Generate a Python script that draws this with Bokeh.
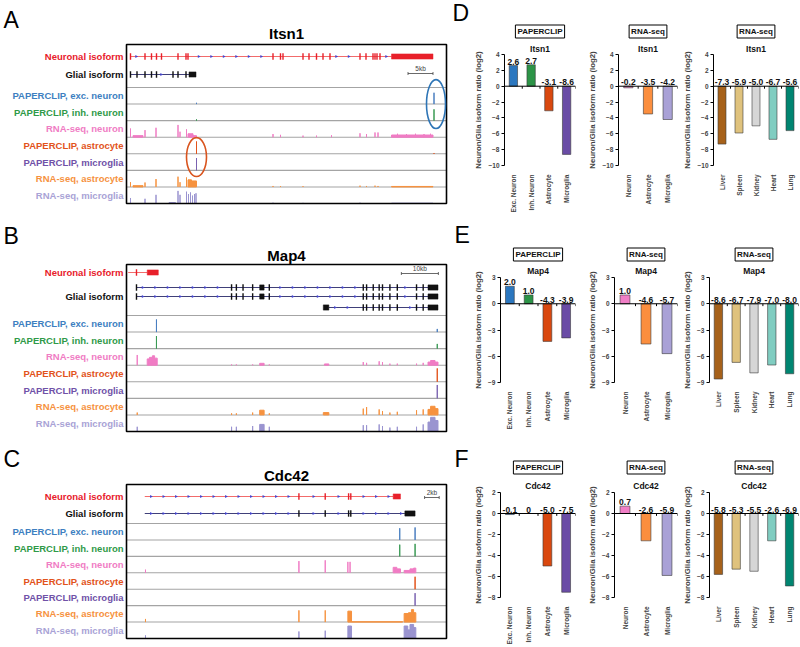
import numpy as np
from bokeh.plotting import figure
from bokeh.models import Range1d, FactorRange, FixedTicker, Span, LabelSet, Title, ColumnDataSource
from bokeh.layouts import row, column
from bokeh.embed import file_html
from bokeh.resources import INLINE
from bokeh.core.properties import value

FONT = "Liberation Sans"

# ---------------- bar-chart data (panels D-F) ----------------
paperclip_cells = ["Exc. Neuron", "Inh. Neuron", "Astrocyte", "Microglia"]
rnaseq_cells = ["Neuron", "Astrocyte", "Microglia"]
tissues = ["Liver", "Spleen", "Kidney", "Heart", "Lung"]

itsn1_paperclip = [2.6, 2.7, -3.1, -8.6]
itsn1_rnaseq = [-0.2, -3.5, -4.2]
itsn1_tissue = [-7.3, -5.9, -5.0, -6.7, -5.6]
map4_paperclip = [2.0, 1.0, -4.3, -3.9]
map4_rnaseq = [1.0, -4.6, -5.7]
map4_tissue = [-8.6, -6.7, -7.9, -7.0, -8.0]
cdc42_paperclip = [-0.1, 0.0, -5.0, -7.5]
cdc42_rnaseq = [0.7, -2.6, -5.9]
cdc42_tissue = [-5.8, -5.3, -5.5, -2.6, -6.9]

itsn1_ticks = [-10, -8, -6, -4, -2, 0, 2, 4]
map4_ticks = [-9, -6, -3, 0, 3]
cdc42_ticks = [-8, -6, -4, -2, 0, 2]

paperclip_colors = ["#2b77bf", "#2c9447", "#d9480f", "#6a4ca6"]
rnaseq_colors = ["#f07ec6", "#fb8e3e", "#a9a1d6"]
tissue_colors = ["#a6611a", "#dfc27d", "#d6d6d6", "#80cdc1", "#018571"]

# ---------------- genome-browser data (panels A-C), positions in kb ----------------
track_names = ["PAPERCLIP, exc. neuron", "PAPERCLIP, inh. neuron", "RNA-seq, neuron",
               "PAPERCLIP, astrocyte", "PAPERCLIP, microglia", "RNA-seq, astrocyte",
               "RNA-seq, microglia"]
track_label_colors = ["#3d7fc1", "#2f9a48", "#f07cc4", "#e2531b", "#7052a8", "#f6923f", "#a9a3d6"]
track_signal_colors = ["#4a7fc0", "#3a9a55", "#f07cc4", "#e2531b", "#7a62b0", "#f6923f", "#9a94d0"]

# Itsn1
itsn1_window_kb = 64.0
itsn1_neuronal_span = (0.7, 53.0)
itsn1_neuronal_exons = [0.8, 3.7, 5.0, 6.0, 7.0, 10.3, 11.9, 12.3, 29.3, 30.8, 31.3, 35.3, 36.5,
                        38.0, 39.3, 40.7, 46.7, 47.9, 49.3, 49.7, 50.1, 50.7]
itsn1_neuronal_blocks = [(53.0, 61.3)]
itsn1_glial_span = (0.7, 12.5)
itsn1_glial_exons = [0.8, 2.1, 3.7, 5.0, 6.0, 9.3, 10.3, 11.9]
itsn1_glial_blocks = [(12.5, 13.9)]
itsn1_exc = [(14.0, 14.0, 0.08), (61.5, 61.5, 0.72)]
itsn1_inh = [(14.0, 14.0, 0.08), (61.5, 61.5, 0.72)]
itsn1_rna_neuron = [(0.8, 0.8, 0.55), (1.3, 3.3, 0.1), (3.7, 3.7, 0.45), (5.9, 5.9, 0.6),
                    (10.3, 10.3, 0.78), (10.7, 10.7, 0.35), (12.0, 12.0, 0.5), (12.3, 13.3, 0.22),
                    (13.3, 14.0, 0.1), (29.3, 29.3, 0.2), (30.8, 30.8, 0.15), (35.3, 35.3, 0.1),
                    (38.0, 38.0, 0.1), (41.0, 41.0, 0.12), (46.7, 46.7, 0.25), (48.0, 48.0, 0.2),
                    (49.7, 49.7, 0.3), (50.3, 50.3, 0.3), (53.0, 61.3, 0.14), (54.2, 54.2, 0.22),
                    (56.0, 56.0, 0.2), (57.8, 57.8, 0.22), (59.5, 59.5, 0.2), (60.8, 60.8, 0.22)]
itsn1_astro = [(14.0, 14.0, 0.78), (61.5, 61.5, 0.05)]
itsn1_micro = [(14.0, 14.0, 0.78)]
itsn1_rna_astro = [(0.8, 0.8, 0.3), (1.3, 3.3, 0.08), (3.7, 3.7, 0.28), (5.9, 5.9, 0.5),
                   (10.3, 10.3, 0.65), (10.7, 10.7, 0.3), (12.0, 12.0, 0.6), (12.3, 13.0, 0.45),
                   (13.0, 14.0, 0.38), (29.3, 29.3, 0.06), (30.8, 30.8, 0.05), (35.3, 35.3, 0.05),
                   (46.7, 46.7, 0.08), (48.0, 48.0, 0.06), (49.7, 49.7, 0.08), (50.3, 50.3, 0.06),
                   (53.0, 61.3, 0.03)]
itsn1_rna_micro = [(0.8, 0.8, 0.35), (3.7, 3.7, 0.3), (5.9, 5.9, 0.55), (8.5, 9.8, 0.06),
                   (10.3, 10.3, 0.8), (10.7, 10.7, 0.55), (12.0, 12.0, 0.75), (12.4, 12.4, 0.6),
                   (12.8, 12.8, 0.7), (13.2, 13.2, 0.5), (13.6, 13.6, 0.6), (13.9, 13.9, 0.65),
                   (29.3, 29.3, 0.05), (35.3, 35.3, 0.04), (46.7, 46.7, 0.05), (53.0, 61.3, 0.02)]
itsn1_scalebar = (56.3, 5)

# Map4
map4_window_kb = 86.5
map4_neuronal_span = (0.45, 5.6)
map4_neuronal_exons = [2.7]
map4_neuronal_blocks = [(5.6, 8.6)]
map4_glial_long_span = (2.7, 81.5)
map4_glial_long_exons = [2.7, 28.4, 29.7, 31.5, 34.1, 38.6, 64.0, 64.9, 66.7, 68.3, 69.2, 71.2,
                         73.2, 78.4, 80.2]
map4_glial_long_blocks = [(36.0, 37.2), (81.5, 84.2)]
map4_glial_short_span = (54.7, 81.5)
map4_glial_short_exons = [64.0, 64.9, 66.7, 68.3, 69.2, 71.2, 73.2, 78.4, 80.2]
map4_glial_short_blocks = [(53.2, 54.7), (81.5, 84.2)]
map4_exc = [(8.1, 8.1, 0.8), (84.0, 84.0, 0.2)]
map4_inh = [(8.1, 8.1, 0.8), (84.0, 84.0, 0.3)]
map4_rna_neuron = [(2.9, 2.9, 0.65), (5.6, 6.2, 0.4), (6.2, 7.0, 0.5), (7.0, 7.6, 0.6),
                   (7.6, 8.3, 0.45), (28.4, 28.4, 0.05), (29.7, 29.7, 0.05), (34.1, 34.1, 0.05),
                   (36.0, 37.2, 0.12), (38.6, 38.6, 0.05), (53.5, 54.7, 0.08), (64.0, 64.0, 0.2),
                   (64.9, 64.9, 0.15), (68.3, 68.3, 0.25), (69.2, 69.2, 0.2), (71.2, 71.2, 0.1),
                   (73.2, 73.2, 0.1), (78.4, 78.4, 0.1), (80.2, 80.2, 0.15), (81.5, 82.2, 0.2),
                   (82.2, 83.4, 0.3), (83.4, 84.2, 0.2)]
map4_astro = [(84.0, 84.0, 0.85)]
map4_micro = [(84.0, 84.0, 0.85)]
map4_rna_astro = [(2.9, 2.9, 0.15), (28.4, 28.4, 0.1), (29.7, 29.7, 0.1), (34.1, 34.1, 0.15),
                  (36.0, 37.2, 0.3), (38.6, 38.6, 0.1), (53.2, 54.7, 0.15), (64.0, 64.0, 0.4),
                  (64.9, 64.9, 0.5), (68.3, 68.3, 0.35), (69.2, 69.2, 0.25), (71.2, 71.2, 0.15),
                  (73.2, 73.2, 0.2), (78.4, 78.4, 0.3), (80.2, 80.2, 0.35), (81.5, 82.2, 0.35),
                  (82.2, 83.4, 0.55), (83.4, 84.2, 0.4)]
map4_rna_micro = [(2.9, 2.9, 0.3), (28.4, 28.4, 0.3), (29.7, 29.7, 0.3), (34.1, 34.1, 0.35),
                  (36.0, 37.2, 0.45), (38.6, 38.6, 0.3), (64.0, 64.0, 0.4), (64.9, 64.9, 0.4),
                  (68.3, 68.3, 0.45), (69.2, 69.2, 0.35), (71.2, 71.2, 0.25), (73.2, 73.2, 0.3),
                  (78.4, 78.4, 0.3), (80.2, 80.2, 0.45), (81.5, 82.2, 0.6), (82.2, 83.4, 0.9),
                  (83.4, 84.2, 0.7)]
map4_scalebar = (74.3, 10)

# Cdc42
cdc42_window_kb = 43.8
cdc42_neuronal_span = (2.5, 36.5)
cdc42_neuronal_exons = [23.6, 27.2, 30.4, 30.7]
cdc42_neuronal_blocks = [(36.5, 37.5)]
cdc42_glial_span = (2.5, 38.1)
cdc42_glial_exons = [23.6, 27.2, 30.4, 30.7]
cdc42_glial_blocks = [(38.1, 39.5)]
cdc42_exc = [(37.4, 37.4, 0.75), (39.5, 39.5, 0.8)]
cdc42_inh = [(37.4, 37.4, 0.75), (39.5, 39.5, 0.8)]
cdc42_rna_neuron = [(2.6, 2.6, 0.2), (23.6, 23.6, 0.75), (27.2, 27.2, 0.8), (30.3, 30.3, 0.7),
                    (30.6, 30.6, 0.7), (36.5, 37.0, 0.35), (37.0, 37.5, 0.25), (38.0, 38.8, 0.15),
                    (38.8, 39.3, 0.25), (39.3, 39.6, 0.3)]
cdc42_astro = [(39.5, 39.5, 0.8)]
cdc42_micro = [(39.5, 39.5, 0.8)]
cdc42_rna_astro = [(2.6, 2.6, 0.2), (23.6, 23.6, 0.75), (27.2, 27.2, 0.75), (30.3, 30.8, 0.7),
                   (30.8, 37.8, 0.02), (38.0, 38.6, 0.55), (38.6, 39.0, 0.6), (39.0, 39.3, 0.8),
                   (39.3, 39.6, 0.6)]
cdc42_rna_micro = [(2.6, 2.6, 0.2), (23.6, 23.6, 0.45), (27.2, 27.2, 0.5), (30.3, 30.8, 0.8),
                   (38.0, 38.5, 0.8), (38.5, 38.8, 0.55), (38.8, 39.3, 0.9), (39.3, 39.6, 0.7)]
cdc42_scalebar = (40.8, 2)

NEURO_RED = "#e8202a"
GLIA_LINE = "#2a2a6a"
CHEVRON = "#4646d0"
LEFT_W = 471  # width of the genome-browser column (includes room for the D/E/F letters)


def draw_transcript(p, y, span, exons, blocks, kind, L):
    line_col = "#f05a5a" if kind == "neuronal" else GLIA_LINE
    ex_col = NEURO_RED if kind == "neuronal" else "#111111"
    p.segment(x0=[span[0]], y0=[y], x1=[span[1]], y1=[y], line_color=line_col, line_width=0.9)
    sp = 12.5 * L / 320
    ch = [c for c in np.arange(span[0] + sp / 2, span[1], sp)
          if all(abs(c - e) > 0.35 * sp for e in exons)
          and not any(b0 - 0.3 * sp < c < b1 + 0.3 * sp for b0, b1 in blocks)]
    if ch:
        p.scatter(ch, [y] * len(ch), marker="triangle", angle=-np.pi / 2, size=3.2,
                  color=CHEVRON, line_width=0)
    n = len(exons)
    p.segment(x0=exons, y0=[y - 3.2] * n, x1=exons, y1=[y + 3.2] * n,
              line_color=ex_col, line_width=1.4)
    p.quad(left=[b[0] for b in blocks], right=[b[1] for b in blocks],
           top=[y - 2.6] * len(blocks), bottom=[y + 2.6] * len(blocks),
           fill_color=ex_col, line_color=ex_col, line_width=0.5)


def track_panel(letter, gene, L, H, g, transcripts, iso_labels, signals, scalebar,
                right_letter, ellipses=()):
    kbpx = L / 320.0
    p = figure(width=LEFT_W, height=H, x_range=Range1d(-126 * kbpx, (LEFT_W - 126) * kbpx),
               y_range=Range1d(H, 0), x_axis_type=None, y_axis_type=None,
               min_border=0, outline_line_color=None, output_backend="svg",
               toolbar_location=None)
    rl_text, rl_x, rl_y = right_letter
    p.text(x=[-123 * kbpx, (rl_x - 126) * kbpx], y=[g["letter_y"], rl_y],
           text=[letter, rl_text], text_font=value(FONT),
           text_font_size=value("23px"), text_baseline="middle", text_align="left",
           text_color="black")
    p.text(x=[L / 2], y=[g["title_y"]], text=[gene], text_font=value(FONT),
           text_font_size=value("15px"), text_font_style="bold", text_align="center",
           text_baseline="middle", text_color="black")
    rowh = (g["bottom"] - g["first_sep"]) / 7.0
    seps = [g["first_sep"] + k * rowh for k in range(7)]
    p.segment(x0=[0] * 7, x1=[L] * 7, y0=seps, y1=seps, line_color="#a4a4a4", line_width=1.1)
    for (y, span, exons, blocks, kind) in transcripts:
        draw_transcript(p, y, span, exons, blocks, kind, L)
    for k, sig in enumerate(signals):
        base = g["first_sep"] + (k + 1) * rowh
        col = track_signal_colors[k]
        p.quad(left=[s[0] for s in sig], right=[s[1] for s in sig],
               bottom=[base] * len(sig), top=[base - s[2] * rowh * 0.95 for s in sig],
               fill_color=col, line_color=col, line_width=1)
    lab_y = [yy for (_, yy, _) in iso_labels] + [g["first_sep"] + (k + 0.5) * rowh for k in range(7)]
    lab_t = [t for (t, _, _) in iso_labels] + track_names
    lab_c = [c for (_, _, c) in iso_labels] + track_label_colors
    src = ColumnDataSource(dict(x=[-3 * kbpx] * len(lab_t), y=lab_y, t=lab_t, c=lab_c))
    p.text(x="x", y="y", text="t", text_color="c", source=src, text_font=value(FONT),
           text_font_size=value("9.5px"), text_font_style="bold", text_align="right",
           text_baseline="middle")
    p.quad(left=[0], right=[L], top=[g["box_top"]], bottom=[g["bottom"]], fill_color=None,
           line_color="black", line_width=1.6)
    s0, slen = scalebar
    sy = g["scale_y"]
    p.segment(x0=[s0, s0, s0 + slen], x1=[s0 + slen, s0, s0 + slen], y0=[sy, sy - 1.5, sy - 1.5],
              y1=[sy, sy + 1.5, sy + 1.5], line_color="#444444", line_width=0.8)
    p.text(x=[s0 + slen / 2], y=[sy - 2], text=[f"{slen}kb"], text_font=value(FONT),
           text_font_size=value("6.5px"), text_align="center", text_baseline="bottom",
           text_color="#444444")
    for (ex, r_center, r_h, w, col) in ellipses:
        p.ellipse(x=[ex], y=[g["first_sep"] + r_center * rowh], width=[w], height=[r_h * rowh],
                  fill_color=None, line_color=col, line_width=1.6)
    return p


pA = track_panel(
    "A", "Itsn1", itsn1_window_kb, 210,
    dict(letter_y=19, title_y=33, box_top=44, first_sep=87, bottom=203, scale_y=73),
    [(56, itsn1_neuronal_span, itsn1_neuronal_exons, itsn1_neuronal_blocks, "neuronal"),
     (74, itsn1_glial_span, itsn1_glial_exons, itsn1_glial_blocks, "glial")],
    [("Neuronal isoform", 56, NEURO_RED), ("Glial isoform", 74, "#111111")],
    [itsn1_exc, itsn1_inh, itsn1_rna_neuron, itsn1_astro, itsn1_micro, itsn1_rna_astro,
     itsn1_rna_micro],
    itsn1_scalebar, ("D", 452, 12),
    ellipses=[(itsn1_exc[1][0] + 0.4, 1.0, 2.95, 3.8, "#2e75b6"),
              (itsn1_astro[0][0], 4.2, 2.35, 4.0, "#d9541e")])

pB = track_panel(
    "B", "Map4", map4_window_kb, 224,
    dict(letter_y=25, title_y=45, box_top=54, first_sep=105, bottom=221, scale_y=63),
    [(62, map4_neuronal_span, map4_neuronal_exons, map4_neuronal_blocks, "neuronal"),
     (77, map4_glial_long_span, map4_glial_long_exons, map4_glial_long_blocks, "glial"),
     (86, map4_glial_long_span, map4_glial_long_exons, map4_glial_long_blocks, "glial"),
     (97, map4_glial_short_span, map4_glial_short_exons, map4_glial_short_blocks, "glial")],
    [("Neuronal isoform", 62, NEURO_RED), ("Glial isoform", 86, "#111111")],
    [map4_exc, map4_inh, map4_rna_neuron, map4_astro, map4_micro, map4_rna_astro,
     map4_rna_micro],
    map4_scalebar, ("E", 454, 24))

pC = track_panel(
    "C", "Cdc42", cdc42_window_kb, 213,
    dict(letter_y=24, title_y=41, box_top=50, first_sep=89, bottom=204, scale_y=63),
    [(62, cdc42_neuronal_span, cdc42_neuronal_exons, cdc42_neuronal_blocks, "neuronal"),
     (79, cdc42_glial_span, cdc42_glial_exons, cdc42_glial_blocks, "glial")],
    [("Neuronal isoform", 62, NEURO_RED), ("Glial isoform", 79, "#111111")],
    [cdc42_exc, cdc42_inh, cdc42_rna_neuron, cdc42_astro, cdc42_micro, cdc42_rna_astro,
     cdc42_rna_micro],
    cdc42_scalebar, ("F", 454, 24))


def bar_chart(cats, vals, colors, ticks, gene, method, width, height, left, right,
              top, bottom, s_gene, s_box):
    p = figure(x_range=FactorRange(*cats), y_range=Range1d(ticks[0], ticks[-1]),
               width=width, height=height, output_backend="svg", toolbar_location=None,
               min_border_left=left, min_border_right=right, min_border_top=top,
               min_border_bottom=bottom, outline_line_color=None, title_location=None)
    labels = ["0" if v == 0 else f"{v:.1f}" for v in vals]
    src = ColumnDataSource(dict(cat=cats, val=vals, color=colors,
                                ly=[max(v, 0) for v in vals], lab=labels))
    p.vbar(x="cat", top="val", bottom=0, width=0.47, source=src, fill_color="color",
           line_color="#3a3a3a", line_width=0.6)
    p.add_layout(Span(location=0, dimension="width", line_color="black", line_width=1))
    # small tick marks on the zero line at the category boundaries
    frame_h = height - top - bottom
    tick_len = 2.5 * (ticks[-1] - ticks[0]) / frame_h
    bounds = list(range(1, len(cats) + 1))
    p.segment(x0=bounds, x1=bounds, y0=[0] * len(bounds), y1=[-tick_len] * len(bounds),
              line_color="black", line_width=1)
    p.add_layout(LabelSet(x="cat", y="ly", text="lab", source=src, text_align="center",
                          text_baseline="bottom", y_offset=1, text_font=value(FONT),
                          text_font_size=value("8.5px"), text_font_style=value("bold"),
                          text_color=value("#111111")))
    p.xgrid.grid_line_color = None
    p.ygrid.grid_line_color = None
    ya = p.yaxis[0]
    ya.ticker = FixedTicker(ticks=ticks)
    ya.axis_label = "Neuron/Glia isoform ratio (log2)"
    ya.axis_label_text_font = FONT
    ya.axis_label_text_font_size = "7.8px"
    ya.axis_label_text_font_style = "bold"
    ya.axis_label_standoff = 2
    ya.major_label_text_font = FONT
    ya.major_label_text_font_size = "6.5px"
    ya.major_label_text_font_style = "bold"
    ya.major_label_standoff = 2
    ya.major_tick_in = 0
    ya.major_tick_out = 3
    ya.minor_tick_line_color = None
    xa = p.xaxis[0]
    xa.axis_line_color = None
    xa.major_tick_line_color = None
    xa.major_label_orientation = np.pi / 2
    xa.major_label_text_font = FONT
    xa.major_label_text_font_size = "6.5px"
    xa.major_label_text_font_style = "bold"
    xa.major_label_standoff = 3
    p.add_layout(Title(text=gene, align="center", text_font=FONT, text_font_size="8.5px",
                       text_font_style="bold", text_color="#111111", standoff=s_gene), "above")
    p.add_layout(Title(text=method, align="center", text_font=FONT, text_font_size="8px",
                       text_font_style="bold", text_color="#111111", standoff=s_box,
                       border_line_color="black", border_line_width=1,
                       background_fill_color="white", padding=2), "above")
    return p


def bar_row(gene, vals3, ticks, height, top, bottom, s_gene, s_box):
    c1 = bar_chart(paperclip_cells, vals3[0], paperclip_colors, ticks, gene, "PAPERCLIP",
                   585 - LEFT_W, height, 493 - LEFT_W, 10, top, bottom, s_gene, s_box)
    c2 = bar_chart(rnaseq_cells, vals3[1], rnaseq_colors, ticks, gene, "RNA-seq",
                   95, height, 27, 3, top, bottom, s_gene, s_box)
    c3 = bar_chart(tissues, vals3[2], tissue_colors, ticks, gene, "RNA-seq",
                   120, height, 23, 2, top, bottom, s_gene, s_box)
    return row(c1, c2, c3)


rD = bar_row("Itsn1", [itsn1_paperclip, itsn1_rnaseq, itsn1_tissue], itsn1_ticks,
             215, 54, 49, 2, 5)
rE = bar_row("Map4", [map4_paperclip, map4_rnaseq, map4_tissue], map4_ticks,
             217, 62, 45, 3, 3)
rF = bar_row("Cdc42", [cdc42_paperclip, cdc42_rnaseq, cdc42_tissue], cdc42_ticks,
             215, 60, 44, 4, 5)

layout = row(column(pA, pB, pC), column(rD, rE, rF))
open("out.html", "w").write(file_html(layout, INLINE))
